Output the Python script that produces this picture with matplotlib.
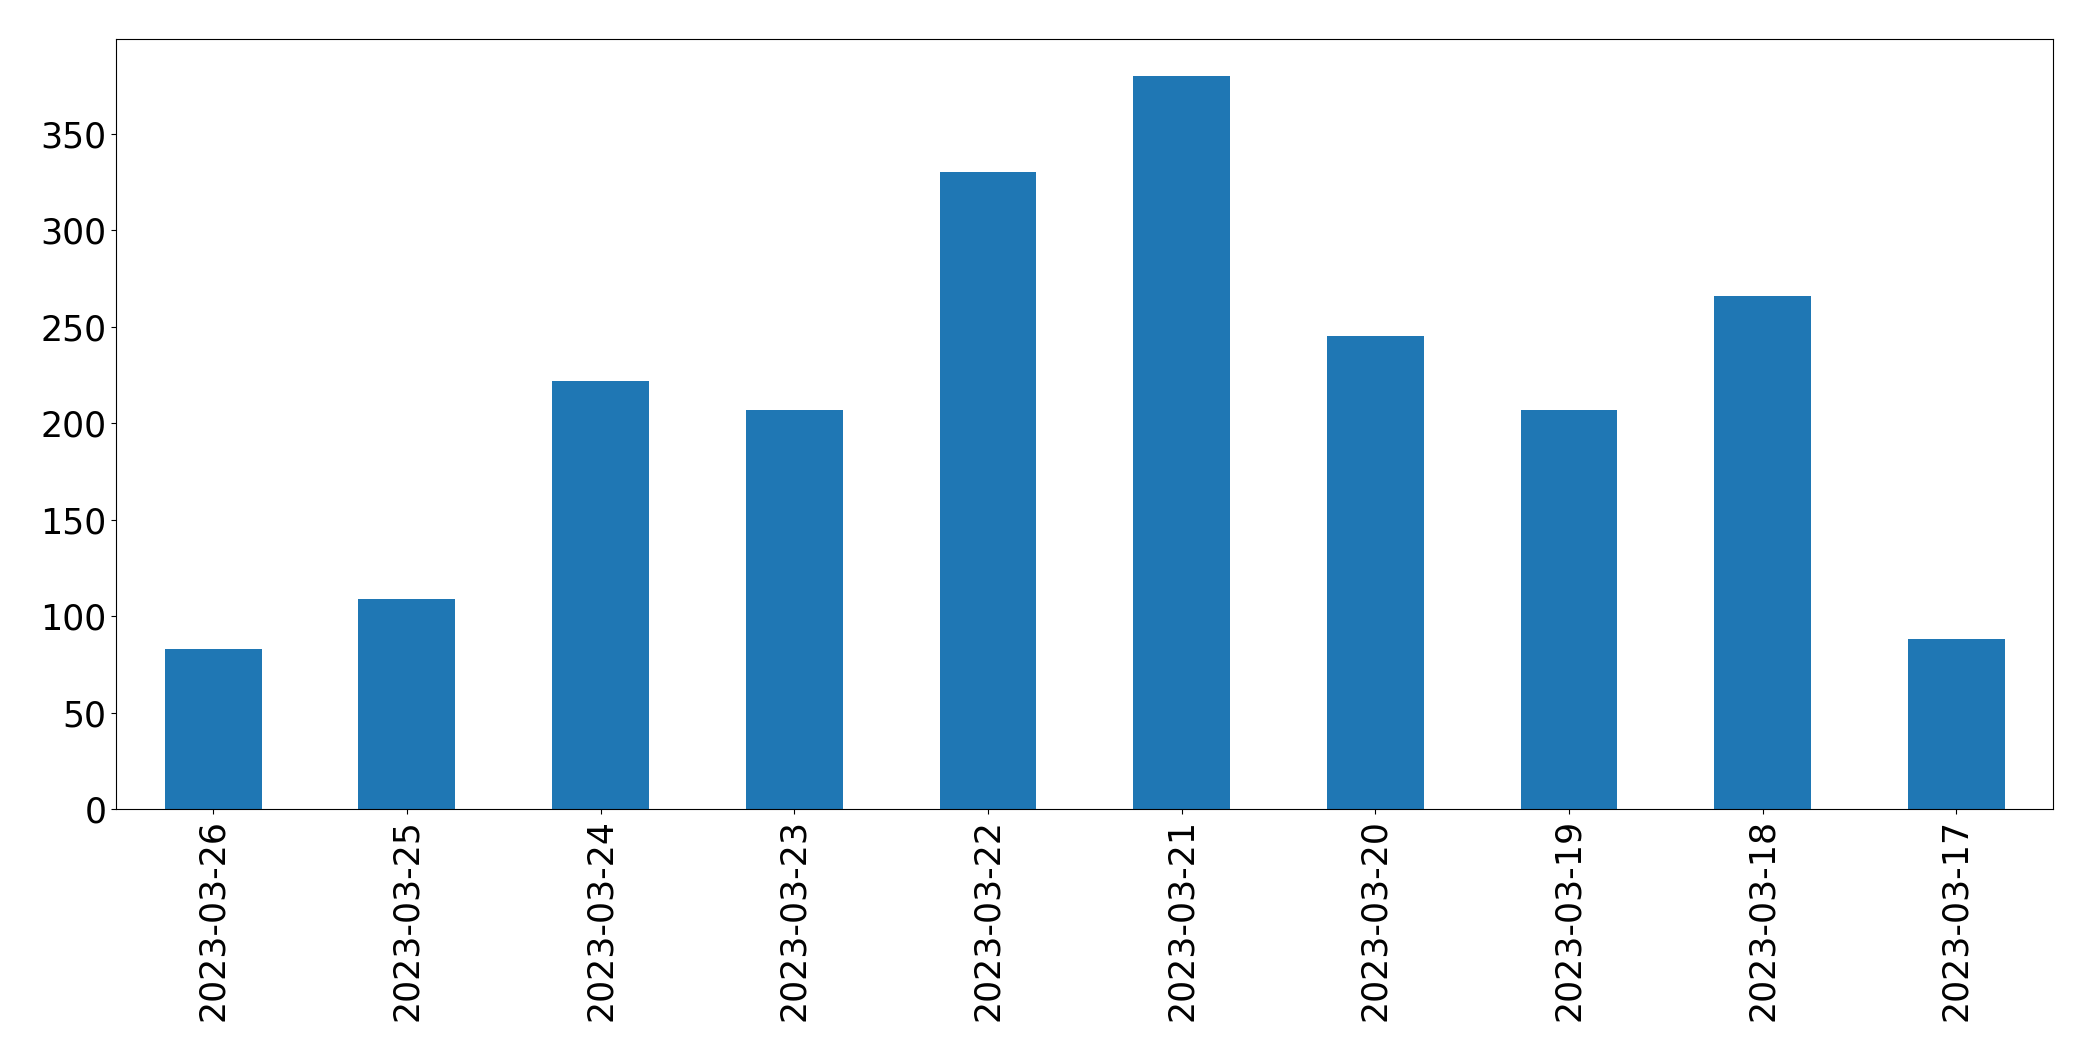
import matplotlib
matplotlib.use("Agg")
import matplotlib.pyplot as plt

dates = ["2023-03-26", "2023-03-25", "2023-03-24", "2023-03-23", "2023-03-22",
         "2023-03-21", "2023-03-20", "2023-03-19", "2023-03-18", "2023-03-17"]
counts = [83, 109, 222, 207, 330, 380, 245, 207, 266, 88]

fig = plt.figure(figsize=(20.93, 10.61), dpi=100)
ax = fig.add_axes([0.0556, 0.2372, 0.981 - 0.0556, 0.963 - 0.2372])
x = list(range(len(dates)))
ax.bar(x, counts, width=0.5, color="#1f77b4")
ax.set_xlim(-0.5, len(dates) - 0.5)
ax.set_ylim(0, max(counts) * 1.05)
ax.set_xticks(x)
ax.set_xticklabels(dates, rotation=90, fontsize=25)
ax.tick_params(axis="y", labelsize=25)
fig.savefig("out.png", dpi=100)
